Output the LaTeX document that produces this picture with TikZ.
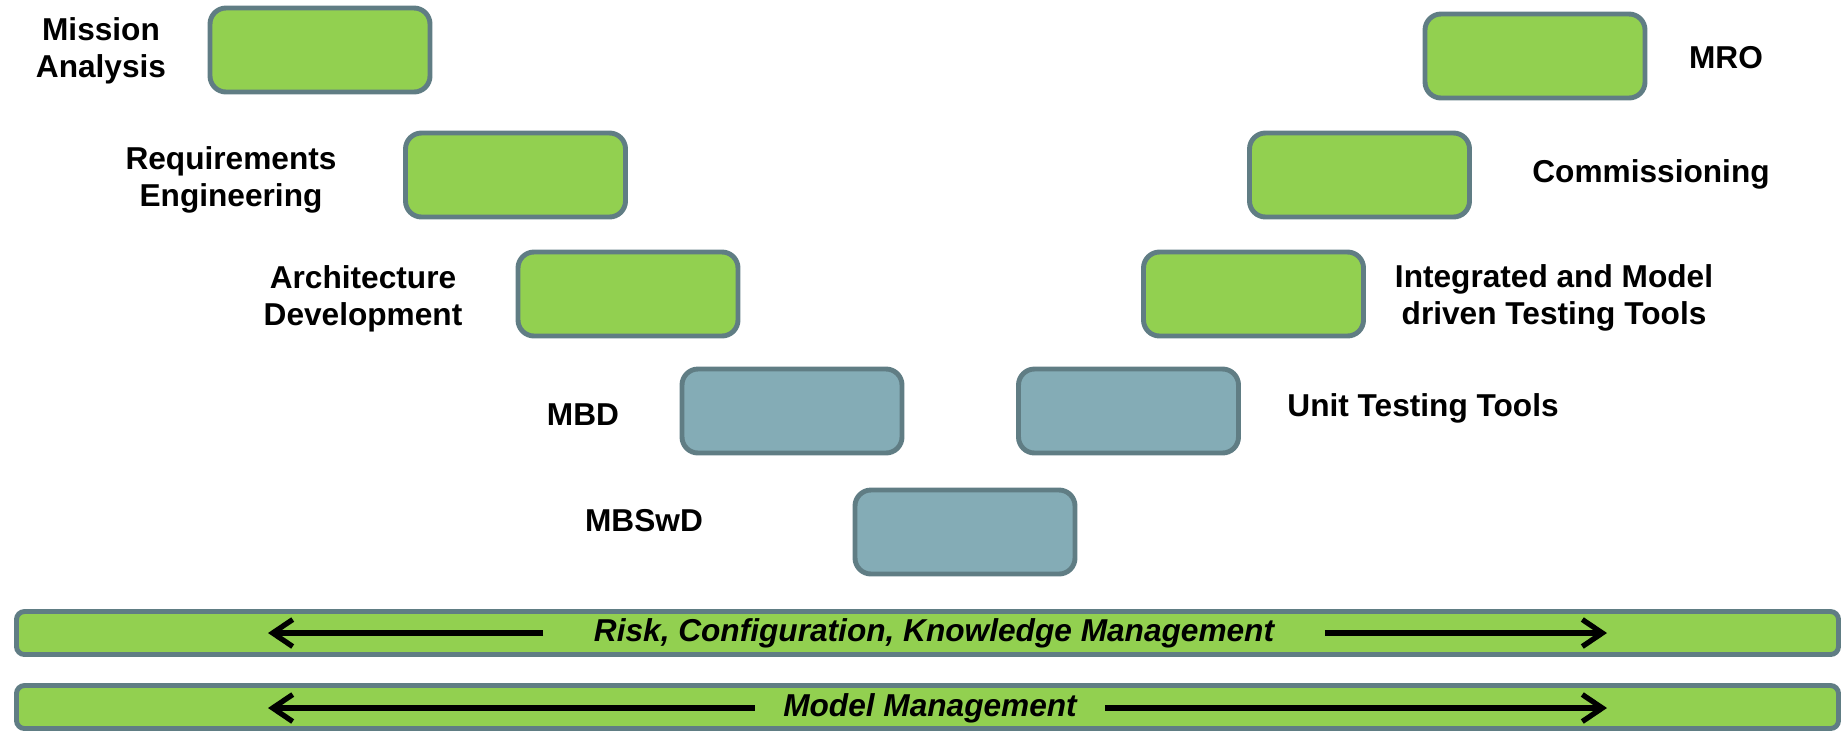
\documentclass[tikz,border=0pt]{standalone}
\usepackage{fontspec}
\setmainfont{Liberation Sans}
\usepackage{tikz}
\usetikzlibrary{arrows.meta, positioning}
\definecolor{phasegreen}{HTML}{92D050}
\definecolor{phaseblue}{HTML}{84ACB6}
\definecolor{phaseedge}{HTML}{607D84}
\tikzstyle{label} = [align=center, font=\fontsize{9}{10.5}\selectfont\bfseries]
\tikzstyle{phase} = [rectangle, rounded corners=0.16cm, draw=phaseedge, line width=1.4pt,
                     minimum width=2.2cm, minimum height=0.84cm, inner sep=0]
\tikzstyle{early} = [phase, fill=phasegreen]
\tikzstyle{late} = [phase, fill=phaseblue]
\tikzstyle{bar} = [rectangle, rounded corners=0.08cm, draw=phaseedge, line width=1.4pt, fill=phasegreen,
                   minimum width=18.22cm, minimum height=0.43cm, inner sep=0]
\tikzstyle{bartext} = [font=\fontsize{9}{10.5}\selectfont\bfseries\itshape, inner xsep=0.5cm]
\tikzstyle{span} = [line width=1.5pt, -{Straight Barb[length=0.2cm, width=0.27cm, line width=1.5pt]}]

\begin{document}
\begin{tikzpicture}
				\useasboundingbox (0, 0) rectangle (18.42, -7.32);

				% left side of the V
				\node (MissionBox) [early] at (3.20, -0.50) {};
				\node (MissionLabel) [label] at (1.01, -0.51) {Mission\\Analysis};

				\node (ReqBox) [early] at (5.155, -1.75) {};
				\node (ReqLabel) [label] at (2.31, -1.80) {Requirements\\Engineering};

				\node (ArchBox) [early] at (6.28, -2.94) {};
				\node (ArchLabel) [label] at (3.63, -2.99) {Architecture\\Development};

				\node (MBDBox) [late] at (7.92, -4.11) {};
				\node (MBDLabel) [label] at (5.83, -4.15) {MBD};

				% bottom of the V
				\node (SwBox) [late] at (9.65, -5.32) {};
				\node (SwLabel) [label] at (6.44, -5.21) {MBSwD};

				% right side of the V
				\node (UnitBox) [late] at (11.285, -4.11) {};
				\node (UnitLabel) [label] at (14.23, -4.08) {Unit Testing Tools};

				\node (IntBox) [early] at (12.535, -2.94) {};
				\node (IntLabel) [label] at (15.54, -2.98) {Integrated and Model\\driven Testing Tools};

				\node (ComBox) [early] at (13.595, -1.75) {};
				\node (ComLabel) [label] at (16.51, -1.74) {Commissioning};

				\node (MROBox) [early] at (15.35, -0.56) {};
				\node (MROLabel) [label] at (17.26, -0.58) {MRO};

				% risk bar
				\node (RiskBar) [bar] at (9.275, -6.33) {};
				\node (RiskText) [bartext] at (9.34, -6.33) {Risk, Configuration, Knowledge Management};
				\coordinate (RiskLeft) at (2.68, -6.33);
				\coordinate (RiskRight) at (16.07, -6.33);
				\draw [span] (RiskText) -- (RiskLeft);
				\draw [span] (RiskText) -- (RiskRight);

				% model bar
				\node (ModelBar) [bar] at (9.275, -7.07) {};
				\node (ModelText) [bartext, inner xsep=0.28cm] at (9.30, -7.08) {Model Management};
				\coordinate (ModelLeft) at (2.68, -7.08);
				\coordinate (ModelRight) at (16.07, -7.08);
				\draw [span] (ModelText) -- (ModelLeft);
				\draw [span] (ModelText) -- (ModelRight);
			\end{tikzpicture}
\end{document}
